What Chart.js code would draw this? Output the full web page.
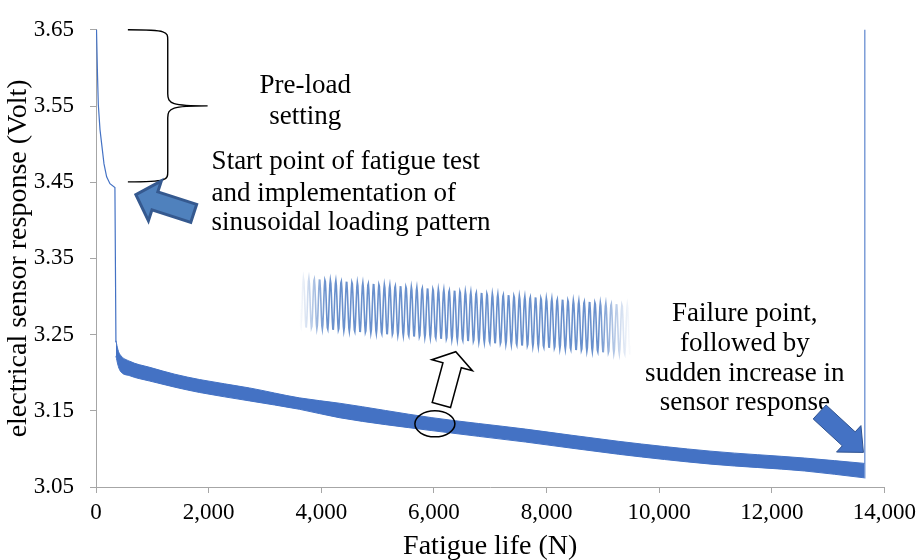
<!DOCTYPE html>
<html>
<head>
<meta charset="utf-8">
<script src="https://cdn.jsdelivr.net/npm/chart.js@4.4.1/dist/chart.umd.min.js"></script>
<style>
  html, body { margin: 0; padding: 0; background: #fff; }
  #wrap { width: 922px; height: 560px; position: relative; }
</style>
</head>
<body>
<div id="wrap"><canvas id="graph--fatigue"></canvas></div>
<script>
/*
* sensor response over fatigue life
*/
const FATIGUE = document.getElementById("graph--fatigue");

// pre-load part (thin line) and its drop to the start of cycling
const preloadN = [0, 9, 27, 41, 71, 101, 142, 189, 248, 336, 354];
const preloadV = [3.70, 3.65, 3.590, 3.552, 3.519, 3.500, 3.474, 3.457, 3.448, 3.443, 3.240];

// sinusoidal loading band: upper and lower envelope
const bandN = [354, 390, 425, 600, 956, 1400, 1841, 2726, 3611, 4319, 5965, 7628, 9274, 10920, 12584, 13646];
const bandUpper = [3.242, 3.230, 3.224, 3.215, 3.207, 3.198, 3.191, 3.180, 3.167, 3.160, 3.141, 3.126, 3.110, 3.097, 3.088, 3.081];
const bandLower = [3.222, 3.210, 3.203, 3.196, 3.189, 3.181, 3.174, 3.163, 3.152, 3.141, 3.124, 3.109, 3.093, 3.080, 3.071, 3.062];

// failure spike
const failN = [13646, 13652];
const failV = [3.062, 3.70];

const xTicks = [0, 2000, 4000, 6000, 8000, 10000, 12000, 14000];
const yTicks = [3.05, 3.15, 3.25, 3.35, 3.45, 3.55, 3.65];

const SERIF = "'Liberation Serif', 'Times New Roman', serif";
const BLUE = "#4472c4";

function pts(xs, ys) {
  return xs.map((x, i) => ({ x: x, y: ys[i] }));
}

function arrow(ctx, x0, y0, x1, y1, sw, hw, hl) {
  const dx = x1 - x0, dy = y1 - y0;
  const len = Math.sqrt(dx * dx + dy * dy);
  const ux = dx / len, uy = dy / len;
  const nx = -uy, ny = ux;
  const bx = x1 - ux * hl, by = y1 - uy * hl;
  ctx.beginPath();
  ctx.moveTo(x0 + nx * sw / 2, y0 + ny * sw / 2);
  ctx.lineTo(bx + nx * sw / 2, by + ny * sw / 2);
  ctx.lineTo(bx + nx * hw / 2, by + ny * hw / 2);
  ctx.lineTo(x1, y1);
  ctx.lineTo(bx - nx * hw / 2, by - ny * hw / 2);
  ctx.lineTo(bx - nx * sw / 2, by - ny * sw / 2);
  ctx.lineTo(x0 - nx * sw / 2, y0 - ny * sw / 2);
  ctx.closePath();
}

const notes = {
  id: "notes",
  afterDatasetsDraw(chart) {
    const ctx = chart.ctx;
    const sx = chart.scales.x, sy = chart.scales.y;
    const X = v => sx.getPixelForValue(v);
    const Y = v => sy.getPixelForValue(v);
    ctx.save();

    // brace for pre-load
    const bl = X(566), bs = X(1274), bt = X(1982);
    const top = Y(3.65), mid = Y(3.5502), bot = Y(3.4504);
    ctx.strokeStyle = "#000";
    ctx.lineWidth = 1.4;
    ctx.beginPath();
    ctx.moveTo(bl, top);
    ctx.bezierCurveTo(bs + 2, top, bs, top + 2, bs, top + 12);
    ctx.lineTo(bs, mid - 12);
    ctx.bezierCurveTo(bs, mid - 2, bs + 4, mid, bt, mid);
    ctx.moveTo(bt, mid);
    ctx.bezierCurveTo(bs + 4, mid, bs, mid + 2, bs, mid + 12);
    ctx.lineTo(bs, bot - 12);
    ctx.bezierCurveTo(bs, bot - 2, bs + 2, bot, bl, bot);
    ctx.stroke();

    // text
    ctx.fillStyle = "#000";
    ctx.font = "27px " + SERIF;
    ctx.textBaseline = "middle";
    ctx.textAlign = "center";
    ctx.fillText("Pre-load", X(3717), Y(3.5770));
    ctx.fillText("setting", X(3717), Y(3.5356));
    ctx.textAlign = "left";
    ctx.fillText("Start point of fatigue test", X(2053), Y(3.4763));
    ctx.fillText("and implementation of", X(2053), Y(3.4349));
    ctx.fillText("sinusoidal loading pattern", X(2053), Y(3.3960));
    ctx.textAlign = "center";
    ctx.fillText("Failure point,", X(11522), Y(3.2768));
    ctx.fillText("followed by", X(11522), Y(3.2379));
    ctx.fillText("sudden increase in", X(11522), Y(3.1990));
    ctx.fillText("sensor response", X(11522), Y(3.1601));

    // inset showing the sinusoidal signal
    const ix0 = X(3611), ix1 = X(9504);
    const iy0 = Y(3.2923), iy1 = Y(3.2560);
    const grad = ctx.createLinearGradient(ix0, 0, ix1, 0);
    grad.addColorStop(0, "rgba(79,125,196,0)");
    grad.addColorStop(0.08, "rgba(79,125,196,0.85)");
    grad.addColorStop(0.9, "rgba(79,125,196,0.85)");
    grad.addColorStop(1, "rgba(79,125,196,0)");
    ctx.strokeStyle = grad;
    ctx.lineWidth = 1.6;
    ctx.beginPath();
    for (let px = ix0; px <= ix1; px += 0.5) {
      const f = (px - ix0) / (ix1 - ix0);
      const cy = iy0 + (iy1 - iy0) * f;
      const yy = cy + 25 * Math.sin((px - ix0) / 5.4 * 2 * Math.PI);
      if (px === ix0) ctx.moveTo(px, yy); else ctx.lineTo(px, yy);
    }
    ctx.stroke();

    // hollow arrow and ellipse
    ctx.strokeStyle = "#000";
    ctx.lineWidth = 1.5;
    ctx.beginPath();
    ctx.ellipse(X(6018), Y(3.1329), 20, 13, 0, 0, 2 * Math.PI);
    ctx.stroke();
    arrow(ctx, X(6133), Y(3.1576), X(6389), Y(3.2275), 19, 42, 14);
    ctx.fillStyle = "#fff";
    ctx.fill();
    ctx.stroke();

    // block arrow at start of fatigue test
    arrow(ctx, X(1735), Y(3.409), X(708), Y(3.4336), 19, 42, 20);
    ctx.fillStyle = "#4f81bd";
    ctx.fill();
    ctx.strokeStyle = "#35598f";
    ctx.lineWidth = 3;
    ctx.stroke();

    // block arrow at failure
    arrow(ctx, X(12850), Y(3.1485), X(13628), Y(3.0954), 19, 36, 20);
    ctx.fillStyle = BLUE;
    ctx.fill();
    ctx.strokeStyle = "#2f528f";
    ctx.lineWidth = 1;
    ctx.stroke();

    ctx.restore();
  }
};

let fatigueChart = new Chart(FATIGUE, {
  type: "line",
  data: {
    datasets: [{
      label: "Pre-load",
      data: pts(preloadN, preloadV),
      borderColor: BLUE,
      borderWidth: 1.2,
      pointRadius: 0,
      fill: false
    }, {
      label: "Upper",
      data: pts(bandN, bandUpper),
      borderColor: BLUE,
      backgroundColor: BLUE,
      borderWidth: 1,
      pointRadius: 0,
      cubicInterpolationMode: "monotone",
      fill: "+1"
    }, {
      label: "Lower",
      data: pts(bandN, bandLower),
      borderColor: BLUE,
      borderWidth: 1,
      pointRadius: 0,
      cubicInterpolationMode: "monotone",
      fill: false
    }, {
      label: "Failure",
      data: pts(failN, failV),
      borderColor: "#7f9fd8",
      borderWidth: 1.5,
      pointRadius: 0,
      fill: false
    }]
  },
  options: {
    responsive: true,
    maintainAspectRatio: false,
    animation: false,
    layout: { padding: { top: 24, right: 35, left: 0, bottom: 0 } },
    plugins: {
      legend: { display: false },
      tooltip: { enabled: false }
    },
    scales: {
      x: {
        type: "linear",
        min: 0,
        max: 14000,
        afterBuildTicks: s => { s.ticks = xTicks.map(v => ({ value: v })); },
        afterFit: s => { s.height = 73; },
        ticks: {
          color: "#000",
          font: { family: SERIF, size: 23 },
          padding: 6,
          maxRotation: 0,
          callback: v => v.toLocaleString("en-US")
        },
        grid: { drawOnChartArea: false, drawTicks: true, tickLength: 6, color: "#a6a6a6" },
        border: { display: true, color: "#a6a6a6" },
        title: {
          display: true,
          text: "Fatigue life (N)",
          color: "#000",
          font: { family: SERIF, size: 28 },
          padding: { top: 0, bottom: -3 }
        }
      },
      y: {
        min: 3.05,
        max: 3.65,
        afterBuildTicks: s => { s.ticks = yTicks.map(v => ({ value: v })); },
        afterFit: s => { s.width = 96; },
        ticks: {
          color: "#000",
          font: { family: SERIF, size: 23 },
          padding: 16,
          callback: v => v.toFixed(2)
        },
        grid: { drawOnChartArea: false, drawTicks: true, tickLength: 6, color: "#a6a6a6" },
        border: { display: true, color: "#a6a6a6" },
        title: {
          display: true,
          text: "electrical sensor response (Volt)",
          color: "#000",
          font: { family: SERIF, size: 28 },
          padding: { top: 2, bottom: 0 }
        }
      }
    }
  },
  plugins: [notes]
});
</script>
</body>
</html>
